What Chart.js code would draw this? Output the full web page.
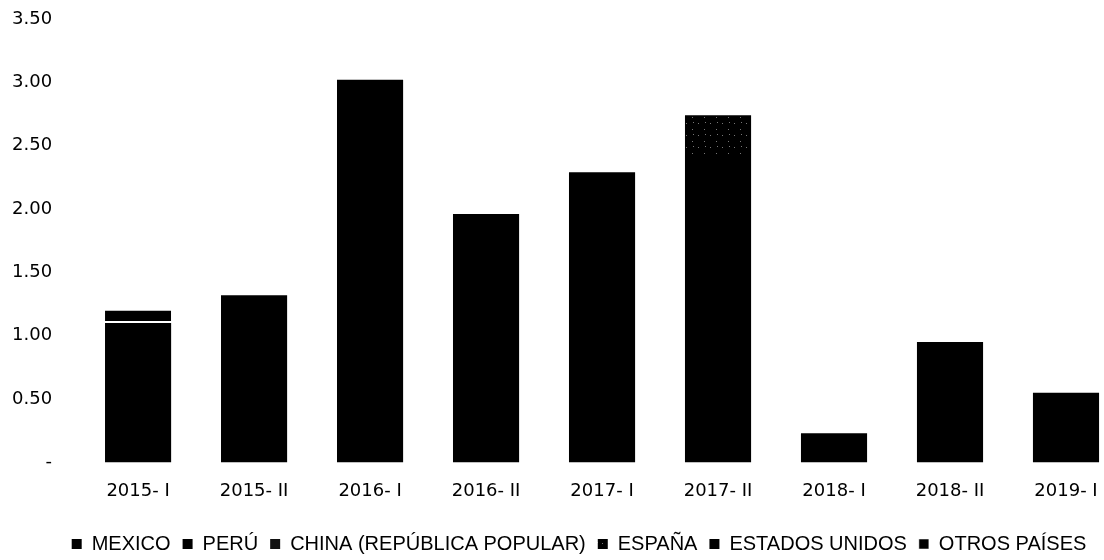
<!DOCTYPE html>
<html>
<head>
<meta charset="utf-8">
<script src="https://cdn.jsdelivr.net/npm/chart.js@4/dist/chart.umd.min.js"></script>
<style>
    html, body { margin: 0; padding: 0; background: #ffffff; overflow: hidden; }
    #wrap { width: 1134px; height: 560px; }
</style>
</head>
<body>
<div id="wrap"><canvas id="countryChart"></canvas></div>
<script>
// categories and values
const periods = ["2015- I", "2015- II", "2016- I", "2016- II", "2017- I", "2017- II", "2018- I", "2018- II", "2019- I"];

const mexico = [1.10, 1.32, 3.02, 1.96, 2.29, 2.41, 0.23, 0.95, 0.55];
const peru = [0, 0, 0, 0, 0, 0, 0, 0, 0];
const china = [0, 0, 0, 0, 0, 0, 0, 0, 0];
const espana = [0, 0, 0, 0, 0, 0.33, 0, 0, 0];
const estadosUnidos = [0, 0, 0, 0, 0, 0, 0, 0, 0];
const otrosPaises = [0.10, 0, 0, 0, 0, 0, 0, 0, 0];

const yTicks = [0, 0.5, 1, 1.5, 2, 2.5, 3, 3.5];

document.addEventListener("DOMContentLoaded", function () {
    setChart();
});

// black with a few grey specks, like the scanned fill
function speckle() {
    const c = document.createElement("canvas");
    c.width = 12;
    c.height = 12;
    const g = c.getContext("2d");
    g.fillStyle = "#000000";
    g.fillRect(0, 0, 12, 12);
    g.fillStyle = "#777777";
    g.fillRect(2, 3, 1, 1);
    g.fillRect(8, 9, 1, 1);
    g.fillRect(9, 2, 1, 1);
    return g.createPattern(c, "repeat");
}

// the chart is cut off on the right, nudge the legend a bit
const legendShift = {
    id: "legendShift",
    afterLayout: chart => {
        chart.legend.left += 25;
        chart.legend.right += 25;
    },
};

function setChart() {
    const ctx = document.getElementById("countryChart").getContext("2d");
    const pattern = speckle();

    const base = {
        backgroundColor: "#000000",
        borderWidth: 0,
        categoryPercentage: 1,
        barPercentage: 0.57,
    };

    new Chart(ctx, {
        type: "bar",
        data: {
            labels: periods,
            datasets: [
                { ...base, label: "MEXICO", data: mexico },
                { ...base, label: "PERÚ", data: peru },
                { ...base, label: "CHINA (REPÚBLICA POPULAR)", data: china, backgroundColor: "#111111" },
                { ...base, label: "ESPAÑA", data: espana, backgroundColor: pattern },
                { ...base, label: "ESTADOS UNIDOS", data: estadosUnidos },
                {
                    ...base,
                    label: "OTROS PAÍSES",
                    data: otrosPaises,
                    borderColor: "#ffffff",
                    borderWidth: { top: 0, left: 0, right: 0, bottom: 2 },
                    borderSkipped: false,
                },
            ],
        },
        plugins: [legendShift],
        options: {
            responsive: true,
            maintainAspectRatio: false,
            animation: false,
            layout: {
                padding: { left: -16, right: 10, top: 0, bottom: -4 },
            },
            plugins: {
                title: { display: false },
                tooltip: { enabled: false },
                legend: {
                    position: "bottom",
                    labels: {
                        color: "#000000",
                        font: { family: "'Liberation Sans Narrow', 'Liberation Sans', sans-serif", size: 20 },
                        boxWidth: 10,
                        boxHeight: 10,
                        padding: 12,
                    },
                },
            },
            scales: {
                x: {
                    stacked: true,
                    grid: { display: false, drawTicks: false },
                    border: { display: false },
                    afterFit: axis => {
                        axis.height += 2;
                    },
                    ticks: {
                        color: "#000000",
                        padding: 18,
                        font: { family: "'DejaVu Sans', sans-serif", size: 18 },
                    },
                },
                y: {
                    stacked: true,
                    min: yTicks[0],
                    max: yTicks[yTicks.length - 1],
                    grid: { display: false, drawTicks: false },
                    border: { display: false },
                    afterBuildTicks: axis => {
                        axis.ticks = yTicks.map(v => ({ value: v }));
                    },
                    // tick padding also pads the top, take it back out
                    afterFit: axis => {
                        axis.paddingTop = 19;
                        axis.paddingBottom = 0;
                    },
                    ticks: {
                        color: "#000000",
                        padding: 28,
                        font: { family: "'DejaVu Sans', sans-serif", size: 18 },
                        callback: v => (v === 0 ? "-" : Number(v).toFixed(2)),
                    },
                },
            },
        },
    });
}
</script>
</body>
</html>
